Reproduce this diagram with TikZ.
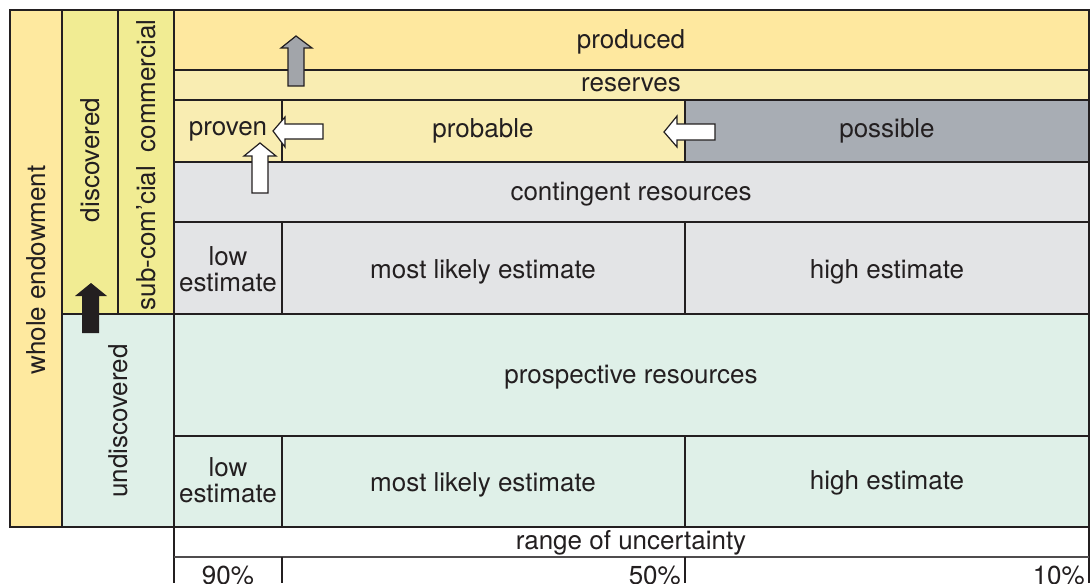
\documentclass[tikz,border=0pt]{standalone}
\usepackage{fontspec}
\setmainfont{TeX Gyre Heros}
\definecolor{lineC}{HTML}{231F20}
\definecolor{endowC}{HTML}{FEE99F}
\definecolor{discC}{HTML}{F1EC93}
\definecolor{undiscC}{HTML}{DFF0E8}
\definecolor{prodC}{HTML}{FEE89F}
\definecolor{resC}{HTML}{F9EDB2}
\definecolor{possC}{HTML}{A8ADB4}
\definecolor{contC}{HTML}{E3E4E6}
\definecolor{arrgrayC}{HTML}{A2A5AA}
\tikzset{
  lbl/.style={font=\fontsize{26}{26}\selectfont, text=lineC, inner sep=0pt, align=center},
  frame/.style={draw=lineC, line width=2pt},
  thin/.style={draw=lineC, line width=1.7pt},
  arr/.style={draw=lineC, line width=1.2pt, line join=miter}
}
\begin{document}
\begin{tikzpicture}[x=1pt,y=-1pt]
\useasboundingbox (0,0) rectangle (1091,583);
% fills
\fill[endowC] (10,10) rectangle (62,527);
\fill[discC] (62,10) rectangle (174,314);
\fill[undiscC] (62,314) rectangle (174,527);
\fill[prodC] (174,10) rectangle (1089,70);
\fill[resC] (174,70) rectangle (1089,100);
\fill[resC] (174,100) rectangle (685,162);
\fill[possC] (685,100) rectangle (1089,162);
\fill[contC] (174,162) rectangle (1089,314);
\fill[undiscC] (174,314) rectangle (1089,527);
% internal lines
\draw[thin] (118,10) -- (118,314);
\draw[thin] (62,10) -- (62,527);
\draw[thin] (174,10) -- (174,583);
\draw[thin] (174,70) -- (1089,70);
\draw[thin] (174,100) -- (1089,100);
\draw[thin] (174,162) -- (1089,162);
\draw[thin] (174,222) -- (1089,222);
\draw[thin] (62,314) -- (1089,314);
\draw[thin] (174,436) -- (1089,436);
\draw[thin] (282,100) -- (282,162);
\draw[thin] (685,100) -- (685,162);
\draw[thin] (282,222) -- (282,314);
\draw[thin] (685,222) -- (685,314);
\draw[thin] (282,436) -- (282,527);
\draw[thin] (685,436) -- (685,527);
% axis box
\draw[thin] (1089,527) -- (1089,583);
\draw[draw=lineC!80, line width=1.2pt] (174,557) -- (1089,557);
\draw[thin] (282,557) -- (282,583);
\draw[thin] (685,557) -- (685,583);
% outer frame
\draw[frame] (10,10) rectangle (1089,527);
% arrows
\draw[arr, fill=arrgrayC] (288,86) -- (288,48) -- (281,48) -- (296,36) -- (312,48) -- (304,48) -- (304,86) -- cycle;
\draw[arr, fill=white] (323,124) -- (285,124) -- (285,117) -- (273,131) -- (285,147) -- (285,139) -- (323,139) -- cycle;
\draw[arr, fill=white] (252,193) -- (252,156) -- (244,156) -- (260,143) -- (276,156) -- (268,156) -- (268,193) -- cycle;
\draw[arr, fill=white] (715,124) -- (677,124) -- (677,116) -- (664,132) -- (677,147) -- (677,140) -- (715,140) -- cycle;
\fill[lineC] (82,333) -- (82,296) -- (75,296) -- (91,283) -- (107,296) -- (99,296) -- (99,333) -- cycle;
% labels
\node[lbl, rotate=90] (whole) at (36,270) {whole endowment};
\node[lbl, rotate=90] (disc) at (90,160) {discovered};
\node[lbl, rotate=90] (comm) at (146,86) {commercial};
\node[lbl, rotate=90] (subc) at (146,238) {sub-com'cial};
\node[lbl, rotate=90] (undisc) at (118,421) {undiscovered};
\node[lbl] (prod) at (631,42) {produced};
\node[lbl] (res) at (631,85) {reserves};
\node[lbl] (prov) at (228,131) {proven};
\node[lbl] (prob) at (483,131) {probable};
\node[lbl] (poss) at (887,131) {possible};
\node[lbl] (cont) at (631,194) {contingent resources};
\node[lbl] (low1) at (228,269) {low\\estimate};
\node[lbl] (ml1) at (483,272) {most likely estimate};
\node[lbl] (hi1) at (887,272) {high estimate};
\node[lbl] (prosp) at (631,377) {prospective resources};
\node[lbl] (low2) at (228,480) {low\\estimate};
\node[lbl] (ml2) at (483,485) {most likely estimate};
\node[lbl] (hi2) at (887,483) {high estimate};
\node[lbl] (range) at (631,543) {range of uncertainty};
\node[lbl] (p90) at (228,576) {90\%};
\node[lbl, anchor=east] (p50) at (681,576) {50\%};
\node[lbl, anchor=east] (p10) at (1085,576) {10\%};
\end{tikzpicture}
\end{document}
